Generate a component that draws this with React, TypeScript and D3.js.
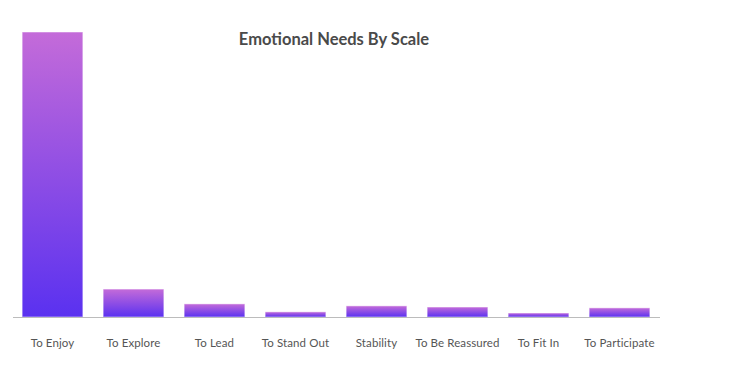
import React from 'react';
import * as d3 from 'd3';

const categories = ['To Enjoy', 'To Explore', 'To Lead', 'To Stand Out', 'Stability', 'To Be Reassured', 'To Fit In', 'To Participate'];
const values = [100, 9.8, 4.6, 1.8, 3.9, 3.5, 1.4, 3.2];

const W = 733;
const H = 385;
const left = 12;
const right = 660;
const baseY = 317;
const topY = 32;

const App = () => {
  const x = d3.scaleBand<string>()
    .domain(categories)
    .range([left, right])
    .paddingInner(0.25)
    .paddingOuter(0.125);

  const y = d3.scaleLinear()
    .domain([0, 100])
    .range([baseY, topY]);

  return (
    <svg width={W} height={H} style={{ position: 'absolute', left: 0, top: 0 }}>
      <defs>
        <linearGradient id="barGrad" x1="0" y1="0" x2="0" y2="1">
          <stop offset="0%" stopColor="#c46bd9" />
          <stop offset="100%" stopColor="#5a31f0" />
        </linearGradient>
      </defs>
      <text x={334} y={45} textAnchor="middle" fontFamily="Lato, sans-serif" fontWeight="bold" fontSize={16.5} fill="#4a4a4a">
        Emotional Needs By Scale
      </text>
      {categories.map((c, i) => (
        <rect
          key={c}
          x={x(c)}
          y={y(values[i])}
          width={x.bandwidth()}
          height={baseY - y(values[i])}
          fill="url(#barGrad)"
          stroke="rgba(255,255,255,0.5)"
          strokeWidth={1}
        />
      ))}
      <line x1={left + 1} x2={right} y1={baseY + 0.5} y2={baseY + 0.5} stroke="#bcbcbc" strokeWidth={1} />
      {categories.map(c => (
        <text
          key={c}
          x={(x(c) ?? 0) + x.bandwidth() / 2}
          y={347}
          textAnchor="middle"
          fontFamily="Lato, sans-serif"
          fontSize={11.5}
          letterSpacing={0.1}
          fill="#555"
        >
          {c}
        </text>
      ))}
    </svg>
  );
};

export default App;
